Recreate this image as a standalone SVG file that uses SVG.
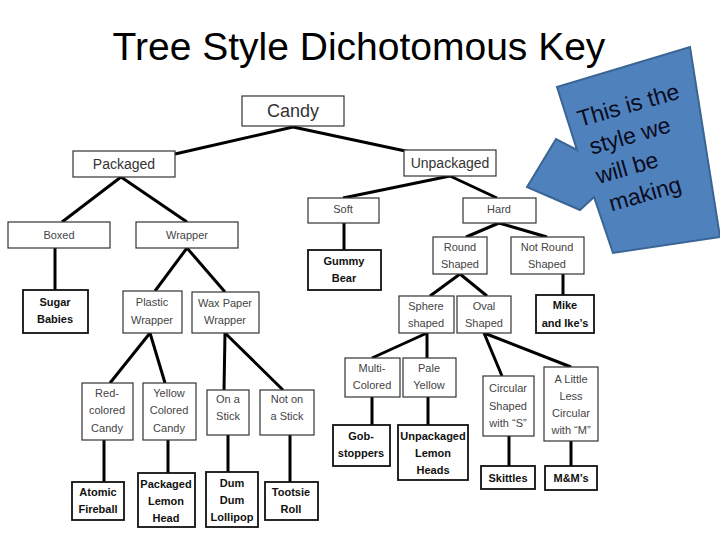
<svg xmlns="http://www.w3.org/2000/svg" width="720" height="540" viewBox="0 0 720 540">
<style>
.b{fill:#fff;stroke:#333;stroke-width:1.2}
.l{fill:#fff;stroke:#111;stroke-width:1.8}
text{font-family:"Liberation Sans",Arial,sans-serif;text-anchor:middle}
.t{font-size:11px;fill:#444}
.k{font-size:11px;fill:#111;font-weight:bold}
#conn line{stroke:#000;stroke-width:3}
</style>
<rect width="720" height="540" fill="#fff"/>
<text x="359" y="60" style="font-size:39px;fill:#000">Tree Style Dichotomous Key</text>
<g id="conn">
<line x1="293" y1="127" x2="175" y2="154"/><line x1="293" y1="127" x2="410" y2="152"/>
<line x1="121" y1="177" x2="62" y2="222"/><line x1="121" y1="177" x2="187" y2="222"/>
<line x1="450" y1="176" x2="343" y2="198"/><line x1="450" y1="176" x2="497" y2="198"/>
<line x1="55" y1="248" x2="55" y2="290"/>
<line x1="187" y1="248" x2="155" y2="291"/><line x1="187" y1="248" x2="225" y2="292"/>
<line x1="344" y1="223" x2="344" y2="250"/>
<line x1="499" y1="223" x2="466" y2="237"/><line x1="499" y1="223" x2="547" y2="237"/>
<line x1="460" y1="274" x2="430" y2="296"/><line x1="460" y1="274" x2="487" y2="296"/>
<line x1="563" y1="274" x2="563" y2="295"/>
<line x1="150" y1="333" x2="110" y2="383"/><line x1="150" y1="333" x2="165" y2="383"/>
<line x1="225" y1="333" x2="224" y2="390"/><line x1="225" y1="333" x2="283" y2="390"/>
<line x1="427" y1="333" x2="372" y2="358"/><line x1="427" y1="333" x2="427" y2="358"/>
<line x1="484" y1="333" x2="502" y2="376"/><line x1="484" y1="333" x2="571" y2="367"/>
<line x1="104" y1="440" x2="104" y2="482"/><line x1="168" y1="440" x2="168" y2="473"/>
<line x1="228" y1="435" x2="228" y2="472"/><line x1="290" y1="435" x2="290" y2="482"/>
<line x1="372" y1="397" x2="372" y2="425"/><line x1="428" y1="397" x2="428" y2="425"/>
<line x1="509" y1="436" x2="509" y2="466"/><line x1="571" y1="441" x2="571" y2="466"/>
</g>
<g id="candy"><rect class="b" x="242" y="96" width="102" height="30"/><text x="293" y="117" style="font-size:18px;fill:#333">Candy</text></g>
<g id="packaged"><rect class="b" x="73" y="151" width="102" height="26"/><text x="124" y="169" style="font-size:14px;fill:#333">Packaged</text></g>
<g id="unpackaged"><rect class="b" x="404" y="150" width="92" height="26"/><text x="450" y="168" style="font-size:14px;fill:#333">Unpackaged</text></g>
<g id="boxed"><rect class="b" x="8" y="222" width="102" height="26"/><text class="t" x="59" y="239">Boxed</text></g>
<g id="wrapper"><rect class="b" x="136" y="222" width="102" height="26"/><text class="t" x="187" y="239">Wrapper</text></g>
<g id="sugar"><rect class="l" x="23" y="290" width="65" height="43"/><text class="k" x="55" y="306">Sugar</text><text class="k" x="55" y="323">Babies</text></g>
<g id="plastic"><rect class="b" x="123" y="291" width="59" height="42"/><text class="t" x="152" y="306">Plastic</text><text class="t" x="152" y="324">Wrapper</text></g>
<g id="wax"><rect class="b" x="192" y="292" width="67" height="41"/><text class="t" x="225" y="307">Wax Paper</text><text class="t" x="225" y="324">Wrapper</text></g>
<g id="soft"><rect class="b" x="308" y="198" width="71" height="25"/><text class="t" x="343" y="213">Soft</text></g>
<g id="hard"><rect class="b" x="463" y="198" width="73" height="25"/><text class="t" x="499" y="213">Hard</text></g>
<g id="gummy"><rect class="l" x="308" y="250" width="73" height="40"/><text class="k" x="344" y="265">Gummy</text><text class="k" x="344" y="282">Bear</text></g>
<g id="round"><rect class="b" x="433" y="237" width="54" height="37"/><text class="t" x="460" y="251">Round</text><text class="t" x="460" y="268">Shaped</text></g>
<g id="notround"><rect class="b" x="511" y="237" width="73" height="37"/><text class="t" x="547" y="251">Not Round</text><text class="t" x="547" y="268">Shaped</text></g>
<g id="sphere"><rect class="b" x="399" y="296" width="55" height="37"/><text class="t" x="426" y="310">Sphere</text><text class="t" x="426" y="327">shaped</text></g>
<g id="oval"><rect class="b" x="457" y="296" width="54" height="37"/><text class="t" x="484" y="310">Oval</text><text class="t" x="484" y="327">Shaped</text></g>
<g id="mike"><rect class="l" x="536" y="295" width="58" height="38"/><text class="k" x="565" y="309">Mike</text><text class="k" x="565" y="327">and Ike’s</text></g>
<g id="red"><rect class="b" x="82" y="383" width="51" height="57"/><text class="t" x="107" y="397">Red-</text><text class="t" x="107" y="414">colored</text><text class="t" x="107" y="432">Candy</text></g>
<g id="yellow"><rect class="b" x="143" y="383" width="53" height="57"/><text class="t" x="169" y="397">Yellow</text><text class="t" x="169" y="414">Colored</text><text class="t" x="169" y="432">Candy</text></g>
<g id="onstick"><rect class="b" x="207" y="390" width="42" height="45"/><text class="t" x="228" y="403">On a</text><text class="t" x="228" y="420">Stick</text></g>
<g id="notonstick"><rect class="b" x="260" y="390" width="54" height="45"/><text class="t" x="287" y="403">Not on</text><text class="t" x="287" y="420">a Stick</text></g>
<g id="atomic"><rect class="l" x="72" y="482" width="52" height="38"/><text class="k" x="98" y="496">Atomic</text><text class="k" x="98" y="513">Fireball</text></g>
<g id="lemonhead"><rect class="l" x="138" y="473" width="57" height="54"/><text class="k" x="166" y="488">Packaged</text><text class="k" x="166" y="505">Lemon</text><text class="k" x="166" y="522">Head</text></g>
<g id="dumdum"><rect class="l" x="206" y="472" width="52" height="55"/><text class="k" x="232" y="487">Dum</text><text class="k" x="232" y="504">Dum</text><text class="k" x="232" y="521">Lollipop</text></g>
<g id="tootsie"><rect class="l" x="265" y="482" width="53" height="38"/><text class="k" x="291" y="496">Tootsie</text><text class="k" x="291" y="513">Roll</text></g>
<g id="multi"><rect class="b" x="345" y="358" width="55" height="39"/><text class="t" x="372" y="372">Multi-</text><text class="t" x="372" y="389">Colored</text></g>
<g id="pale"><rect class="b" x="403" y="358" width="53" height="39"/><text class="t" x="429" y="372">Pale</text><text class="t" x="429" y="389">Yellow</text></g>
<g id="gob"><rect class="l" x="333" y="425" width="57" height="41"/><text class="k" x="361" y="440">Gob-</text><text class="k" x="361" y="457">stoppers</text></g>
<g id="unpacklemon"><rect class="l" x="398" y="425" width="70" height="55"/><text class="k" x="433" y="440">Unpackaged</text><text class="k" x="433" y="457">Lemon</text><text class="k" x="433" y="474">Heads</text></g>
<g id="circular"><rect class="b" x="483" y="376" width="51" height="60"/><text class="t" x="508" y="392">Circular</text><text class="t" x="508" y="410">Shaped</text><text class="t" x="508" y="427">with “S”</text></g>
<g id="lesscircular"><rect class="b" x="544" y="367" width="54" height="74"/><text class="t" x="571" y="383">A Little</text><text class="t" x="571" y="400">Less</text><text class="t" x="571" y="417">Circular</text><text class="t" x="571" y="434">with “M”</text></g>
<g id="skittles"><rect class="l" x="481" y="466" width="54" height="23"/><text class="k" x="508" y="482">Skittles</text></g>
<g id="mms"><rect class="l" x="545" y="466" width="52" height="24"/><text class="k" x="571" y="482">M&amp;M’s</text></g>
<g id="callout">
<polygon points="557,87 690,47 720,237 613,253 594,197 580,210 527,187 556,139 577,150" fill="#4f81bd" stroke="#3a6594" stroke-width="2"/>
<g transform="rotate(-16 580 127)" style="font-family:'Open Sans','Liberation Sans',sans-serif;font-size:23px;fill:#0b0b20">
<text x="580" y="127" style="text-anchor:start">This is the</text><text x="584" y="157" style="text-anchor:start">style we</text><text x="582" y="187" style="text-anchor:start">will be</text><text x="587" y="217" style="text-anchor:start">making</text>
</g>
</g>
</svg>
